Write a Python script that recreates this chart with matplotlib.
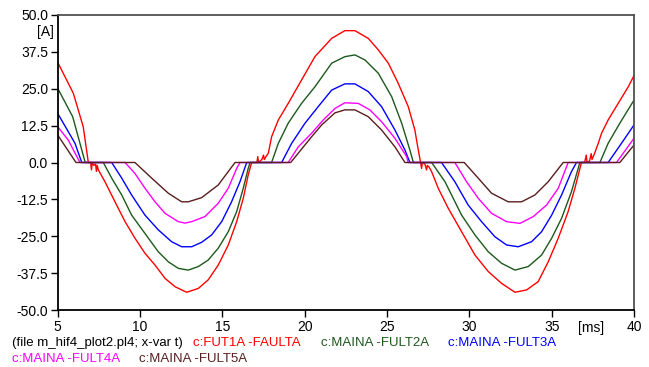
"""Fault current traces from an ATP/EMTP run (m_hif4_plot2.pl4)."""

import matplotlib

matplotlib.use("Agg")
import matplotlib.pyplot as plt
import numpy as np

plt.rcParams["font.family"] = ["Liberation Sans", "DejaVu Sans"]

# time [ms] / current [A], one pair per trace
t_fault = [5.0, 5.95, 6.55, 6.86, 7.0, 7.05, 7.1, 7.2, 7.3, 7.35, 7.4, 7.47, 7.87, 8.48,
           9.09, 9.69, 10.3, 10.91, 11.52, 12.12, 12.83, 13.54, 14.14, 14.75, 15.36, 15.87,
           16.27, 16.57, 16.78, 17.1, 17.15, 17.2, 17.4, 17.5, 17.55, 17.65, 17.79, 17.99,
           18.4, 19.0, 19.81, 20.62, 21.64, 22.44, 23.05, 23.86, 24.47, 25.08, 25.68, 26.29,
           26.69, 26.9, 27.04, 27.1, 27.15, 27.3, 27.4, 27.45, 27.55, 27.71, 28.11, 28.72,
           29.53, 30.34, 31.15, 31.96, 32.77, 33.48, 34.18, 34.79, 35.4, 36.0, 36.41, 36.81,
           37.0, 37.1, 37.15, 37.3, 37.4, 37.45, 37.6, 37.83, 38.03, 38.43, 39.04, 39.65, 40.0]
i_fault = [33.9, 23.4, 12.1, 0, 0, -2.5, 0, -1, -0.5, -3, -1, -2.5, -6.5, -13.3,
           -20, -25.6, -30.7, -34.7, -39.2, -42, -43.9, -42.6, -39.7, -34.7, -27.9, -20,
           -12.1, -4.2, 0, 0, 2, 0, 1, 2.5, 1, 2, 3.1, 8.7,
           14.4, 20, 27.9, 35.8, 42, 44.6, 44.6, 42, 38.1, 33.6, 26.8, 18.9,
           11, 4.2, 0, -2, 0, -0.5, -2.5, -1, -1.5, -3.1, -8.7, -15.5,
           -23.4, -31.3, -36.9, -40.9, -43.9, -43.1, -40.3, -33.6, -25.6, -16.6, -8.7, 0,
           0, 2.5, 0, 0.5, 3, 1, 3, 6.5, 9.9, 14.4, 20, 25.6, 29.4]

t_fult2 = [5.0, 5.91, 6.67, 7.77, 8.28, 8.89, 9.49, 10.3, 11.11, 11.72, 12.32, 12.93, 13.54,
           14.14, 14.75, 15.36, 15.87, 16.27, 16.57, 16.68, 17.99, 18.4, 19.0, 19.81, 20.62,
           21.64, 22.44, 23.05, 23.66, 24.47, 25.28, 25.89, 26.39, 26.6, 27.71, 28.52, 29.53,
           30.34, 31.15, 31.96, 32.77, 33.58, 34.39, 35.0, 35.6, 36.2, 36.61, 36.71, 37.93,
           38.43, 39.14, 40.0]
i_fult2 = [25.1, 15.5, 0, 0, -5.3, -11, -17.8, -24, -30.2, -33.6, -35.8, -36.4, -35.2,
           -33, -29, -23.4, -16.6, -8.7, -2, 0, 0, 6.5, 13.3, 20, 25.6,
           33.6, 35.8, 36.4, 34.7, 30.2, 22.3, 13.3, 4.2, 0, 0, -6.5, -17.8,
           -24.5, -30.2, -34.1, -36.4, -35.2, -31.3, -25.6, -18.9, -9.9, -2, 0, 0,
           6.5, 13.3, 21.1]

t_fult3 = [5.0, 6.05, 6.46, 8.28, 8.89, 9.49, 10.3, 11.11, 11.92, 12.53, 13.14, 13.74, 14.35,
           14.96, 15.56, 16.07, 16.48, 18.6, 19.21, 20.02, 20.82, 21.64, 22.44, 23.05, 23.86,
           24.67, 25.48, 26.09, 26.39, 28.31, 29.12, 29.93, 30.74, 31.55, 32.26, 32.97, 33.78,
           34.39, 35.0, 35.6, 36.2, 36.51, 38.43, 39.24, 40.0]
i_fult3 = [16.6, 6.5, 0, 0, -5.3, -11, -17.8, -22.8, -26.8, -28.5, -28.5, -27, -24.5,
           -20, -13.3, -6.5, 0, 0, 6.5, 13.3, 18.9, 24.5, 26.6, 26.6, 24,
           18.9, 11, 4.2, 0, 0, -6.5, -14.4, -20, -25.1, -27.9, -28.5, -26.8,
           -23.4, -17.8, -11, -3.1, 0, 0, 6.5, 12.7]

t_fult4 = [5.0, 5.64, 6.35, 9.09, 9.69, 10.3, 10.91, 11.52, 12.32, 12.73, 13.14, 13.94, 14.75,
           15.36, 15.87, 16.07, 19.0, 19.61, 20.42, 21.13, 21.84, 22.44, 23.25, 23.96, 24.67,
           25.48, 26.19, 26.29, 29.12, 29.83, 30.54, 31.35, 32.26, 33.07, 33.88, 34.69, 35.4,
           36.0, 38.94, 40.0]
i_fult4 = [12.1, 7.6, 0, 0, -3.7, -8.7, -13.3, -17.2, -20, -20.5, -20, -18.3, -13.8,
           -8.7, -2, 0, 0, 5.3, 9.9, 14.4, 18.3, 20.2, 20, 17.8, 13.8,
           8.2, 2, 0, 0, -6.5, -12.1, -17.2, -20, -20.6, -18.3, -14.4, -8.7,
           0, 0, 8.2]

t_fult5 = [5.0, 6.11, 9.69, 10.71, 11.72, 12.53, 12.93, 13.74, 14.75, 15.77, 19.15, 20.42, 21.03,
           21.84, 22.44, 23.05, 23.86, 24.67, 25.48, 26.09, 29.69, 30.54, 31.35, 32.36, 33.17,
           33.98, 34.79, 35.7, 39.14, 40.0]
i_fult5 = [9.3, 0, 0, -5.3, -10.4, -13.3, -13.3, -11.9, -7.6, 0, 0, 8.7, 12.7,
           16.8, 17.8, 17.8, 15.5, 11, 5.3, 0, 0, -5.3, -10.4, -13.3, -13.3,
           -11, -6.5, 0, 0, 5.9]

labels = ["c:FUT1A -FAULTA", "c:MAINA -FULT2A", "c:MAINA -FULT3A",
          "c:MAINA -FULT4A", "c:MAINA -FULT5A"]
colors = ["#ff0000", "#1c5a1c", "#0000ff", "#ff00ff", "#5a1e1e"]

W, H = 649, 367
fig = plt.figure(figsize=(W / 100, H / 100), dpi=100)
ax = fig.add_axes([57.7 / W, 1 - 310.3 / H, (634 - 57.7) / W, (310.3 - 14.7) / H])

traces = [(t_fault, i_fault), (t_fult2, i_fult2), (t_fult3, i_fult3),
          (t_fult4, i_fult4), (t_fult5, i_fult5)]
for (t, i), c in zip(traces, colors):
    ax.plot(t, i, color=c, lw=1.0)

ax.set_xlim(5, 40)
ax.set_ylim(-50, 50)
ax.set_xticks(np.arange(5, 41, 5))
ax.set_yticks(np.arange(-50, 50.1, 12.5))
ax.set_yticklabels([f"{v:.1f}" for v in np.arange(-50, 50.1, 12.5)])
ax.tick_params(direction="out", length=5, width=1, labelsize=10, pad=2, colors="black")

for side in ["left", "bottom"]:
    ax.spines[side].set_color("black")
    ax.spines[side].set_linewidth(1.3)
for side in ["top", "right"]:
    ax.spines[side].set_color("#505050")
    ax.spines[side].set_linewidth(1.3)

# unit labels
fig.text(45.5 / W, 1 - 32 / H, "[A]", fontsize=10, ha="center", va="center")
fig.text(591 / W, 1 - 328 / H, "[ms]", fontsize=10, ha="center", va="center")

# ATP-style legend underneath
fig.text(12 / W, 1 - 343 / H, "(file m_hif4_plot2.pl4; x-var t)", fontsize=9.5, va="center")
legend_pos = [(193, 343), (321, 343), (448, 343), (12, 359), (139, 359)]
for (x, y), lab, c in zip(legend_pos, labels, colors):
    fig.text(x / W, 1 - y / H, lab, fontsize=9.5, color=c, va="center")

fig.savefig("out.png", dpi=100)
